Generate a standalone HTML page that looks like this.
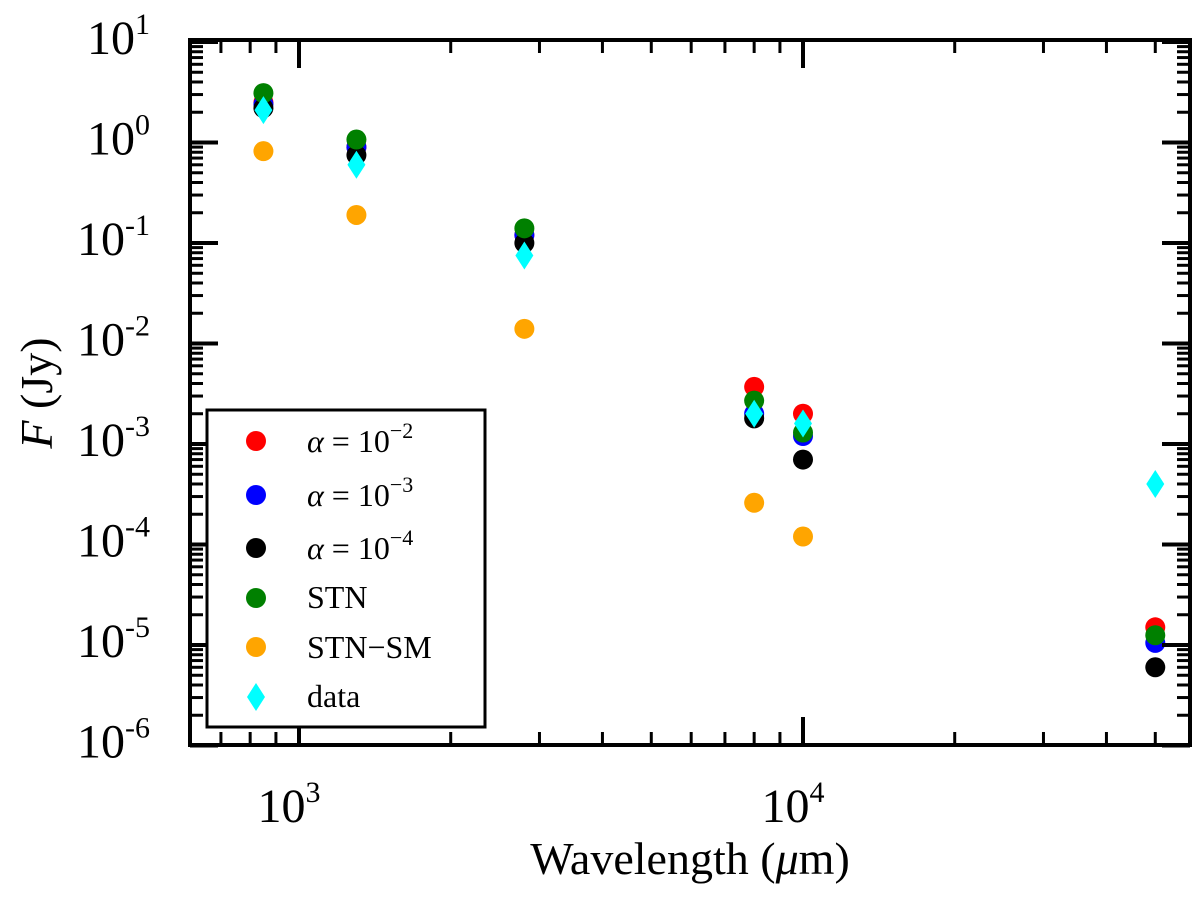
<!DOCTYPE html>
<html><head><meta charset="utf-8"><style>
body{margin:0;background:#fff}
svg text{font-family:"Liberation Serif",serif;fill:#000}
</style></head><body>
<svg id="chart" width="1200" height="905">
<g id="marks"></g>
<g id="axes"></g>
</svg>
<script>
const wavelengths=[850,1300,2800,8000,10000,50000];
const alpha2=[2.5,0.9,0.12,0.0037,0.002,1.5e-5];
const alpha3=[2.4,0.9,0.12,0.002,0.0012,1.05e-5];
const alpha4=[2.2,0.75,0.1,0.0018,0.0007,6e-6];
const stn=[3.1,1.07,0.14,0.0027,0.0013,1.25e-5];
const stnsm=[0.82,0.19,0.014,0.00026,0.00012,null];
const obs=[2.1,0.6,0.075,0.002,0.0016,4e-4];
const yTicks=[1,0,-1,-2,-3,-4,-5,-6];
const xTicks=[3,4];

const L=190,R=1190,T=40,B=745;
const x=v=>299+(Math.log10(v)-3)*504;
const y=v=>42+(1-Math.log10(v))*100.5;
const NS='http://www.w3.org/2000/svg';
const marks=document.getElementById('marks'),axes=document.getElementById('axes');
function mk(tag,attrs,parent){const e=document.createElementNS(NS,tag);for(const k in attrs)e.setAttribute(k,attrs[k]);parent.appendChild(e);return e;}

const series=[[alpha2,'#ff0000','alpha-1e-2'],[alpha3,'#0000ff','alpha-1e-3'],[alpha4,'#000000','alpha-1e-4'],[stn,'#008000','stn'],[stnsm,'#ffa500','stn-sm']];
[0,1,2,3,4].forEach(si=>{const [vals,col,nm]=series[si];
 vals.forEach((v,i)=>{if(v==null)return;
  const c=mk('circle',{cx:x(wavelengths[i]),cy:y(v),r:10,fill:col},marks);
  
  
 });});
obs.forEach((v,i)=>{const cx=x(wavelengths[i]),cy=y(v);
 const p=mk('polygon',{points:`${cx},${cy-14} ${cx+9},${cy} ${cx},${cy+14} ${cx-9},${cy}`,fill:'#00ffff'},marks);
 
 
});

const f=mk('rect',{x:L,y:T,width:R-L,height:B-T,fill:'none',stroke:'#000','stroke-width':4},axes);


for(let d=-6;d<=1;d++){
 const yy=y(Math.pow(10,d));
 mk('line',{x1:L,x2:L+28,y1:yy,y2:yy,stroke:'#000','stroke-width':4},axes);
 mk('line',{x1:R,x2:R-28,y1:yy,y2:yy,stroke:'#000','stroke-width':4},axes);
 if(d<1)for(let m=2;m<10;m++){const ym=y(m*Math.pow(10,d));
  mk('line',{x1:L,x2:L+13,y1:ym,y2:ym,stroke:'#000','stroke-width':3},axes);
  mk('line',{x1:R,x2:R-13,y1:ym,y2:ym,stroke:'#000','stroke-width':3},axes);}
}
yTicks.forEach(d=>{const t=mk('text',{x:150,y:y(Math.pow(10,d))+12,'text-anchor':'end','font-size':48},axes);
 t.innerHTML=`10<tspan dy="-20" font-size="30">${d}</tspan>`;
 
 });
for(let d=2;d<=4;d++)for(let m=1;m<10;m++){const v=m*Math.pow(10,d);const xx=x(v);
 if(xx<L+2||xx>R-2)continue;const len=m==1?28:13;
 mk('line',{x1:xx,x2:xx,y1:B,y2:B-len,stroke:'#000','stroke-width':m==1?4:3},axes);
 mk('line',{x1:xx,x2:xx,y1:T,y2:T+len,stroke:'#000','stroke-width':m==1?4:3},axes);}
xTicks.forEach(d=>{const t=mk('text',{x:x(Math.pow(10,d))-10,y:822,'text-anchor':'middle','font-size':48},axes);
 t.innerHTML=`10<tspan dy="-20" font-size="30">${d}</tspan>`;
 
 });
</script>
<svg style="position:absolute;left:0;top:0" width="1200" height="905">
<text x="690" y="874" text-anchor="middle" font-size="46" font-family="Liberation Serif,serif">Wavelength (<tspan font-style="italic">μ</tspan>m)</text>
<text transform="translate(52,393) rotate(-90)" text-anchor="middle" font-size="46" font-family="Liberation Serif,serif"><tspan font-style="italic">F</tspan> (Jy)</text>
<g font-family="Liberation Serif,serif" font-size="32">
<rect x="207" y="410" width="278" height="317" fill="#fff" stroke="#000" stroke-width="3"/>
<g><circle cx="256" cy="441" r="10" fill="#ff0000"/><text x="307" y="452"><tspan font-style="italic">α</tspan> = 10<tspan dy="-14" font-size="22">−2</tspan></text></g>
<g><circle cx="256" cy="495" r="10" fill="#0000ff"/><text x="307" y="506"><tspan font-style="italic">α</tspan> = 10<tspan dy="-14" font-size="22">−3</tspan></text></g>
<g><circle cx="256" cy="548" r="10" fill="#000"/><text x="307" y="559"><tspan font-style="italic">α</tspan> = 10<tspan dy="-14" font-size="22">−4</tspan></text></g>
<g><circle cx="256" cy="598" r="10" fill="#008000"/><text x="307" y="608">STN</text></g>
<g><circle cx="256" cy="647" r="10" fill="#ffa500"/><text x="307" y="658">STN−SM</text></g>
<g><polygon points="256,683 265,697 256,711 247,697" fill="#00ffff"/><text x="307" y="707">data</text></g>
</g>
</svg>
</body></html>
